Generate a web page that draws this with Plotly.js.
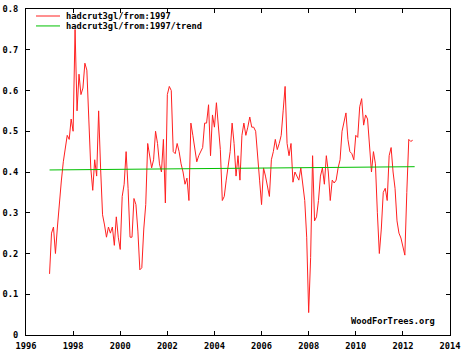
<!DOCTYPE html>
<html>
<head>
<meta charset="utf-8">
<script src="https://cdn.plot.ly/plotly-3.0.1.min.js"></script>
<style>
html,body{margin:0;padding:0;background:#fff;}
#chart{width:467px;height:358px;}
</style>
</head>
<body>
<div id="chart"></div>
<script>
// Series: HadCRUT3 global monthly anomaly from Jan 1997
const startYear = 1997;
const anomaly = [
0.15,0.25,0.265,0.2,0.265,0.33,0.378,0.425,0.46,0.49,0.48,0.53,
0.5,0.75,0.55,0.64,0.59,0.606,0.667,0.65,0.53,0.41,0.355,0.43,
0.39,0.55,0.41,0.295,0.27,0.24,0.265,0.25,0.265,0.22,0.29,0.24,
0.21,0.34,0.37,0.45,0.36,0.24,0.24,0.335,0.32,0.255,0.16,0.165,
0.26,0.32,0.47,0.44,0.41,0.43,0.5,0.47,0.42,0.4,0.48,0.324,
0.59,0.61,0.6,0.45,0.445,0.47,0.45,0.42,0.4,0.37,0.385,0.33,
0.52,0.49,0.45,0.425,0.44,0.45,0.46,0.52,0.52,0.565,0.44,0.54,
0.51,0.57,0.52,0.455,0.33,0.34,0.38,0.42,0.45,0.52,0.47,0.39,
0.44,0.38,0.49,0.52,0.49,0.51,0.535,0.51,0.51,0.5,0.43,0.38,
0.32,0.41,0.39,0.36,0.34,0.43,0.45,0.48,0.455,0.47,0.49,0.55,
0.61,0.47,0.44,0.47,0.375,0.4,0.39,0.38,0.41,0.37,0.33,0.24,
0.055,0.19,0.44,0.28,0.29,0.33,0.39,0.41,0.37,0.44,0.4,0.33,
0.38,0.373,0.38,0.41,0.43,0.5,0.52,0.545,0.48,0.45,0.445,0.43,
0.49,0.485,0.56,0.58,0.515,0.54,0.53,0.46,0.4,0.45,0.42,0.3,
0.2,0.26,0.35,0.36,0.33,0.44,0.46,0.4,0.36,0.28,0.25,0.238,
0.22,0.196,0.35,0.48,0.475,0.478
];
const months = anomaly.map((_, i) => startYear + i / 12);

// Trend line end points
const trendX = [1997, 2012.5];
const trendY = [0.405, 0.413];

const seriesNames = ["hadcrut3gl/from:1997", "hadcrut3gl/from:1997/trend"];
const seriesColors = ["#ff2020", "#00c000"];
const xTicks = [1996,1998,2000,2002,2004,2006,2008,2010,2012,2014];
const xTickText = ["1996","1998","2000","2002","2004","2006","2008","2010","2012","2014"];
const yTicks = [0,0.1,0.2,0.3,0.4,0.5,0.6,0.7,0.8];
const yTickText = ["0","0.1","0.2","0.3","0.4","0.5","0.6","0.7","0.8"];
const watermark = "WoodForTrees.org";

const FONT = {family: "DejaVu Sans Mono", size: 8.7, color: "#000"};
const bold = s => "<b>" + s + "</b>";

const traces = [
  {x: months, y: anomaly, type: "scatter", mode: "lines", name: seriesNames[0],
   line: {color: seriesColors[0], width: 1}, showlegend: false},
  {x: trendX, y: trendY, type: "scatter", mode: "lines", name: seriesNames[1],
   line: {color: seriesColors[1], width: 1}, showlegend: false}
];

// Manual legend (gnuplot style): short line sample + text
const legendRowsY = [0.9785, 0.948];
const shapes = seriesNames.map((n, k) => ({
  type: "line", xref: "paper", yref: "paper",
  x0: 0.0236, x1: 0.0802, y0: legendRowsY[k], y1: legendRowsY[k],
  line: {color: seriesColors[k], width: 1}
}));
const annotations = seriesNames.map((n, k) => ({
  text: bold(n), xref: "paper", yref: "paper", x: 0.0896, y: legendRowsY[k],
  xanchor: "left", yanchor: "middle", showarrow: false, font: FONT
}));
annotations.push({text: bold(watermark), xref: "paper", yref: "paper",
  x: 0.969, y: 0.043, xanchor: "right", yanchor: "middle",
  showarrow: false, font: FONT});

const layout = {
  width: 467, height: 358,
  margin: {l: 26, r: 17, t: 9, b: 23, pad: 0},
  paper_bgcolor: "#fff", plot_bgcolor: "#fff",
  font: FONT,
  showlegend: false,
  hovermode: false,
  xaxis: {range: [1996, 2014], tickvals: xTicks, ticktext: xTickText.map(bold),
          ticks: "inside", ticklen: 4, tickcolor: "#000", tickwidth: 1,
          showline: true, linecolor: "#000", linewidth: 1, mirror: "ticks",
          showgrid: false, zeroline: false, tickfont: FONT, ticklabelstandoff: 3},
  yaxis: {range: [0, 0.8], tickvals: yTicks, ticktext: yTickText.map(bold),
          ticks: "inside", ticklen: 4, tickcolor: "#000", tickwidth: 1,
          showline: true, linecolor: "#000", linewidth: 1, mirror: "ticks",
          showgrid: false, zeroline: false, tickfont: FONT, ticklabelstandoff: 5},
  shapes: shapes,
  annotations: annotations
};

Plotly.newPlot("chart", traces, layout, {staticPlot: true, displayModeBar: false});
</script>
</body>
</html>
